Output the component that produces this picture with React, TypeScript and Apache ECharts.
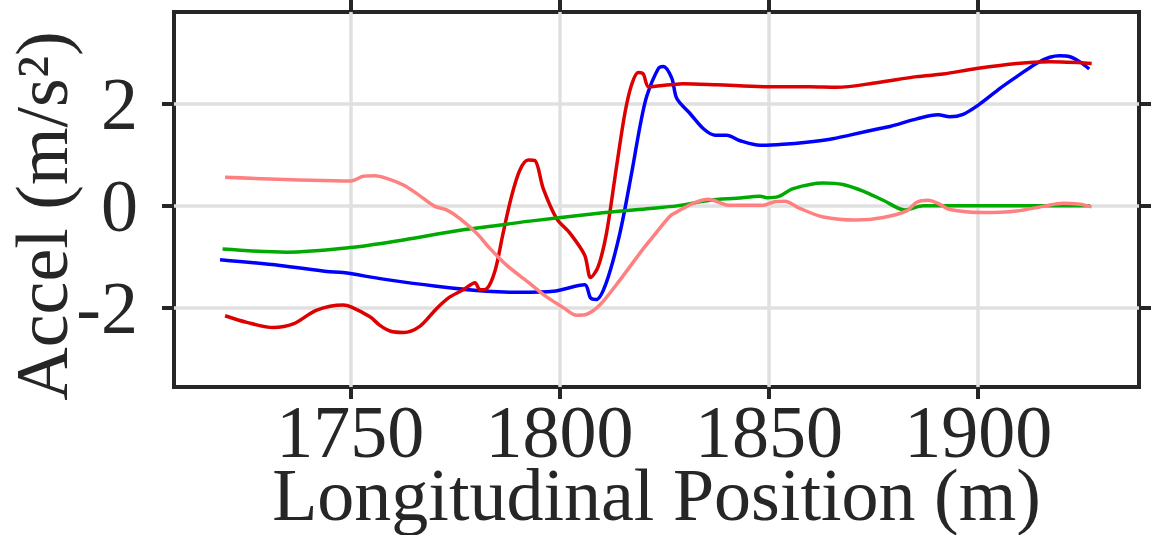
import React, { useEffect, useRef } from "react";
import * as echarts from "echarts";

// Axis ranges and ticks
const xRange = [1707.9, 1938.4];
const yRange = [-3.56, 3.81];
const xTicks = [1750, 1800, 1850, 1900];
const yTicks = [-2, 0, 2];

// Series: blue
const blueX = [1718.9, 1733.2, 1744.4, 1748.3, 1757.9, 1770.6, 1782.6, 1790.5, 1798.5, 1806, 1807.4, 1808.8, 1811.2, 1814.4, 1817.2, 1819.2, 1820.8, 1823.6, 1824.8, 1826.8, 1828, 1831.1, 1834.3, 1837.1, 1839.9, 1843.1, 1847.9, 1853.4, 1859, 1864.6, 1869.3, 1876.5, 1878.9, 1885.3, 1890.4, 1893.2, 1896.4, 1900, 1905.2, 1909.2, 1913.9, 1917.1, 1919.5, 1921.9, 1924.3, 1926.5];
const blueY = [-1.06, -1.17, -1.29, -1.31, -1.44, -1.58, -1.68, -1.7, -1.68, -1.55, -1.81, -1.84, -1.5, -0.54, 0.64, 1.56, 2.15, 2.7, 2.74, 2.51, 2.11, 1.82, 1.52, 1.39, 1.39, 1.28, 1.19, 1.21, 1.25, 1.31, 1.39, 1.52, 1.56, 1.71, 1.79, 1.75, 1.8, 1.98, 2.31, 2.54, 2.8, 2.92, 2.95, 2.93, 2.83, 2.69];

// Series: red
const redX = [1720.1, 1725.3, 1731.6, 1736.4, 1742, 1748.3, 1750.3, 1754.7, 1757.1, 1759.5, 1762.7, 1766.6, 1770.6, 1773.8, 1777, 1779.8, 1781, 1782.6, 1784.6, 1786.5, 1788.5, 1790.5, 1792.5, 1794.1, 1796.1, 1799.3, 1802.5, 1806, 1807.4, 1809.2, 1811.2, 1813.6, 1815.6, 1817.2, 1818.8, 1820, 1821.3, 1826.4, 1829.5, 1837.5, 1850.2, 1859.8, 1866.2, 1875.7, 1885.3, 1891.6, 1899.6, 1909.2, 1917.1, 1927.1];
const redY = [-2.16, -2.29, -2.39, -2.32, -2.05, -1.95, -1.99, -2.18, -2.35, -2.46, -2.49, -2.37, -2.02, -1.79, -1.65, -1.51, -1.65, -1.63, -1.27, -0.54, 0.18, 0.7, 0.9, 0.89, 0.34, -0.25, -0.54, -0.97, -1.41, -1.2, -0.54, 0.77, 1.82, 2.38, 2.62, 2.59, 2.34, 2.38, 2.4, 2.38, 2.34, 2.34, 2.33, 2.42, 2.54, 2.59, 2.7, 2.8, 2.83, 2.8];

// Series: green
const greenX = [1719.5, 1734.8, 1750, 1761.1, 1776.2, 1786.5, 1792.9, 1808.8, 1821.6, 1828, 1835.9, 1842.3, 1847.9, 1849.5, 1852.2, 1855.8, 1863, 1867.7, 1872.5, 1877.3, 1882.5, 1886.9, 1895, 1905, 1915, 1926.7];
const greenY = [-0.85, -0.91, -0.82, -0.69, -0.48, -0.37, -0.3, -0.15, -0.05, 0.0, 0.11, 0.15, 0.19, 0.16, 0.18, 0.34, 0.45, 0.42, 0.29, 0.11, -0.08, 0.0, 0.0, 0.0, 0.0, 0.0];

// Series: pink
const pinkX = [1720.1, 1750.3, 1753.1, 1755.9, 1758.7, 1762.7, 1765.9, 1770.2, 1773, 1776.2, 1780.2, 1783.4, 1787.4, 1792.5, 1796.9, 1800.9, 1804.1, 1806.5, 1809.6, 1814.4, 1820, 1821.6, 1826.4, 1828, 1831.9, 1835.5, 1840.7, 1848.6, 1851.4, 1853.8, 1857.4, 1863, 1870.9, 1877.3, 1882.9, 1885.3, 1888, 1890.4, 1893.2, 1901.2, 1909.2, 1915.5, 1920.3, 1924.3, 1927.1];
const pinkY = [0.56, 0.49, 0.58, 0.59, 0.54, 0.41, 0.24, -0.01, -0.08, -0.25, -0.54, -0.84, -1.17, -1.5, -1.79, -2.0, -2.15, -2.13, -1.95, -1.46, -0.84, -0.68, -0.2, -0.12, 0.05, 0.13, 0.01, 0.01, 0.08, 0.09, -0.05, -0.22, -0.28, -0.23, -0.1, 0.07, 0.11, 0.05, -0.07, -0.13, -0.1, -0.01, 0.05, 0.03, -0.02];

const seriesDefs = [
  { name: "Blue", xs: blueX, ys: blueY, color: "#0000ff" },
  { name: "Red", xs: redX, ys: redY, color: "#dd0000" },
  { name: "Green", xs: greenX, ys: greenY, color: "#00aa00" },
  { name: "Pink", xs: pinkX, ys: pinkY, color: "#ff8080" },
];

const FONT = "Liberation Serif";
const INK = "#262626";
const FS = 74;

export default function App() {
  const ref = useRef<HTMLDivElement>(null);
  useEffect(() => {
    if (!ref.current) return;
    const chart = echarts.init(ref.current, null, { renderer: "svg" });
    const tickStyle = { show: true, inside: false, length: 12, lineStyle: { color: INK, width: 4 } };
    const noLine = { show: false, onZero: false };
    const textStyle = { color: INK, fontFamily: FONT, fontSize: FS, fontWeight: "normal" as const };
    const gridLine = { show: true, lineStyle: { color: "#e0e0e0", width: 3.5 } };
    chart.setOption({
      animation: false,
      backgroundColor: "#ffffff",
      grid: {
        left: 174, right: 12, top: 12, bottom: 148, containLabel: false, outerBoundsMode: "none",
        show: true, borderColor: INK, borderWidth: 4, backgroundColor: "transparent",
      },
      xAxis: [
        {
          type: "value", position: "bottom", min: xRange[0], max: xRange[1],
          axisLine: noLine,
          axisTick: { ...tickStyle, customValues: xTicks },
          axisLabel: { customValues: xTicks, margin: 15, formatter: (v: number) => String(v), ...textStyle, lineHeight: 60 },
          splitLine: gridLine,
          name: "Longitudinal Position (m)", nameLocation: "middle", nameGap: 78, nameMoveOverlap: false,
          nameTextStyle: { ...textStyle, lineHeight: 60 },
        },
        {
          type: "value", position: "top", min: xRange[0], max: xRange[1],
          axisLine: noLine,
          axisTick: { ...tickStyle, customValues: xTicks },
          axisLabel: { show: false, customValues: xTicks },
          splitLine: { show: false },
        },
      ],
      yAxis: [
        {
          type: "value", position: "left", min: yRange[0], max: yRange[1],
          axisLine: noLine,
          axisTick: { ...tickStyle, customValues: yTicks },
          axisLabel: { customValues: yTicks, margin: 36, formatter: (v: number) => String(v), ...textStyle, lineHeight: 60 },
          splitLine: gridLine,
          name: "Accel (m/s²)", nameLocation: "middle", nameGap: 95, nameRotate: 90, nameMoveOverlap: false,
          nameTextStyle: { ...textStyle, lineHeight: 74, padding: [0, 33, 0, 0] },
        },
        {
          type: "value", position: "right", min: yRange[0], max: yRange[1],
          axisLine: noLine,
          axisTick: { ...tickStyle, customValues: yTicks },
          axisLabel: { show: false, customValues: yTicks },
          splitLine: { show: false },
        },
      ],
      series: seriesDefs.map((s) => ({
        name: s.name, type: "line", xAxisIndex: 0, yAxisIndex: 0,
        data: s.xs.map((x, i) => [x, s.ys[i]]),
        showSymbol: false, smooth: 0.3,
        lineStyle: { color: s.color, width: 3.5 },
        itemStyle: { color: s.color },
      })),
    });
    return () => chart.dispose();
  }, []);
  return <div ref={ref} style={{ position: "fixed", left: 0, top: 0, width: 1151, height: 535 }} />;
}
